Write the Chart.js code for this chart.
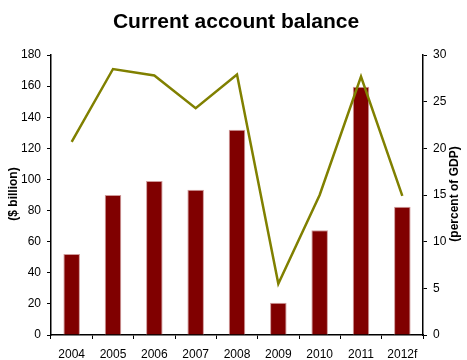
<!DOCTYPE html>
<html lang="en">
<head>
  <meta charset="UTF-8" />
  <title>Current account balance</title>
  <script src="https://cdn.jsdelivr.net/npm/chart.js"></script>
  <style>
    html, body { margin: 0; padding: 0; background: #fff; }
    #wrap { width: 467px; height: 360px; position: relative; }
  </style>
</head>
<body>
<div id="wrap"><canvas id="cab"></canvas></div>

<script>
  const years = ["2004", "2005", "2006", "2007", "2008", "2009", "2010", "2011", "2012f"];
  const balanceBn = [52, 90, 99, 93.4, 132, 20.8, 67.3, 159.6, 82.5];
  const balancePctGdp = [20.7, 28.5, 27.8, 24.3, 27.9, 5.5, 15.0, 27.7, 14.9];

  const FONT = "'Liberation Sans', Arial, sans-serif";

  // title and rotated axis captions, both reading bottom-to-top
  const captions = {
    id: 'captions',
    afterDraw(chart) {
      const ctx = chart.ctx;
      ctx.save();
      ctx.fillStyle = '#000';
      ctx.textAlign = 'center';
      ctx.textBaseline = 'alphabetic';
      ctx.font = 'bold 21px ' + FONT;
      ctx.fillText('Current account balance', 236, 28);

      ctx.font = 'bold 12px ' + FONT;
      ctx.textBaseline = 'middle';
      [['($ billion)', 14], ['(percent of GDP)', 455]].forEach(([txt, x]) => {
        ctx.save();
        ctx.translate(x, 194);
        ctx.rotate(-Math.PI / 2);
        ctx.fillText(txt, 0, 0);
        ctx.restore();
      });
      ctx.restore();
    }
  };

  const axisStyle = {
    grid: { display: true, drawOnChartArea: false, drawTicks: true, tickLength: 4, color: '#000', lineWidth: 1 },
    border: { display: true, color: '#000', width: 1.5 },
  };

  new Chart(document.getElementById('cab'), {
    type: 'bar',
    data: {
      labels: years,
      datasets: [
        {
          type: 'line',
          data: balancePctGdp,
          yAxisID: 'yPct',
          borderColor: '#808000',
          borderWidth: 2.5,
          pointRadius: 0,
          tension: 0,
          fill: false,
          order: 0
        },
        {
          data: balanceBn,
          yAxisID: 'yBn',
          backgroundColor: '#800000',
          borderColor: '#cf9a9a',
          borderWidth: 1,
          barPercentage: 0.4,
          categoryPercentage: 1,
          order: 1
        }
      ]
    },
    options: {
      responsive: true,
      maintainAspectRatio: false,
      animation: false,
      layout: { padding: { top: 55, left: 0, right: 0, bottom: 0 } },
      plugins: { legend: { display: false }, title: { display: false }, tooltip: { enabled: false } },
      scales: {
        x: {
          ...axisStyle,
          offset: true,
          grid: { ...axisStyle.grid, offset: true },
          ticks: { color: '#000', font: { family: FONT, size: 12 }, padding: 8, maxRotation: 0 },
          afterFit(s) { s.height = 25; }
        },
        yBn: {
          ...axisStyle,
          position: 'left',
          min: 0, max: 180,
          ticks: { stepSize: 20, color: '#000', font: { family: FONT, size: 12 }, padding: 6 },
          afterFit(s) { s.width = 51; }
        },
        yPct: {
          ...axisStyle,
          position: 'right',
          min: 0, max: 30,
          ticks: { stepSize: 5, color: '#000', font: { family: FONT, size: 12 }, padding: 6 },
          afterFit(s) { s.width = 44; }
        }
      }
    },
    plugins: [captions]
  });
</script>
</body>
</html>
